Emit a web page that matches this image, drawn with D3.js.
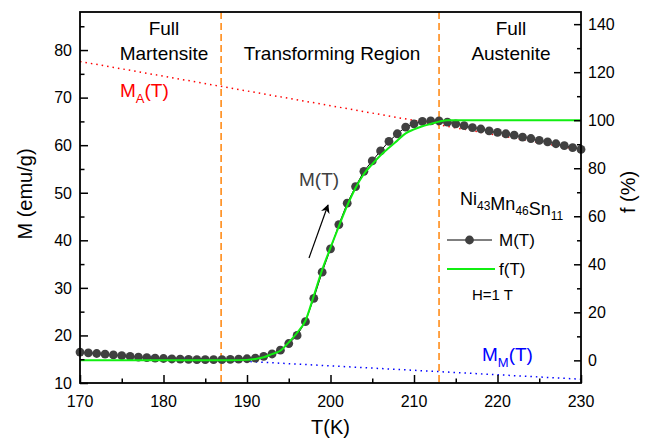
<!DOCTYPE html>
<html>
<head>
<meta charset="utf-8">
<script src="https://cdn.jsdelivr.net/npm/d3@7"></script>
<style>
  body { margin: 0; background: #fff; }
  svg text { font-family: "Liberation Sans", Arial, sans-serif; }
</style>
</head>
<body>
<div id="chart"></div>
<script>
// measured M(T), 1 K steps
const temps = [170,171,172,173,174,175,176,177,178,179,180,181,182,183,184,185,186,187,188,189,190,
  191,192,193,194,195,196,197,198,199,200,201,202,203,204,205,206,207,208,209,210,
  211,212,213,214,215,216,217,218,219,220,221,222,223,224,225,226,227,228,229,230];
const magnet = [16.5,16.35,16.2,16.05,15.9,15.75,15.6,15.45,15.35,15.25,15.15,15.05,15.0,14.95,14.9,14.9,14.9,14.9,14.95,15.0,15.1,
  15.25,15.6,16.1,16.9,18.3,20.0,22.9,27.8,33.3,38.2,43.3,47.8,51.3,54.5,56.7,58.8,60.8,62.4,63.8,64.5,
  65.0,65.1,65.1,64.85,64.5,64.1,63.7,63.4,63.0,62.7,62.4,62.1,61.7,61.4,61.0,60.7,60.3,59.9,59.5,59.1];

// fraction f(T) in %
const fTemps = [170,188,190,191,192,193,194,195,196,197,198,199,200,201,202,203,204,205,206,207,208,209,210,211,212,213,214,230];
const fValues = [0,0,0.2,0.6,1.3,2.6,4.0,7.5,11.5,16.5,26.9,37.7,46.9,55.8,64.4,71.8,77.6,81.7,85.4,88.5,91.5,94.5,96.2,97.5,98.4,99.4,100,100];

// reference lines
const mALine = [[170, 77.6], [230, 59.0]];
const mMLine = [[170, 16.4], [230, 10.8]];
const boundaries = [186.9, 213.0];

const xTicks = [170,180,190,200,210,220,230];
const yTicks = [10,20,30,40,50,60,70,80];
const fTicks = [0,20,40,60,80,100,120,140];

const width = 651, height = 439;
const margin = {top: 12, right: 70, bottom: 56, left: 80};

const svg = d3.select("#chart").append("svg")
    .attr("width", width)
    .attr("height", height);

const x = d3.scaleLinear().domain([170, 230]).range([margin.left, width - margin.right]);
const y = d3.scaleLinear().domain([10, 88]).range([height - margin.bottom, margin.top]);
const yf = d3.scaleLinear().domain([-9.43, 145.06]).range([height - margin.bottom, margin.top]);

const x0 = x.range()[0], x1 = x.range()[1];
const yb = y.range()[0], yt = y.range()[1];

// dashed phase boundaries
svg.append("g")
  .selectAll("line")
  .data(boundaries)
  .join("line")
    .attr("x1", d => x(d)).attr("x2", d => x(d))
    .attr("y1", yt).attr("y2", yb)
    .attr("stroke", "#ff8c1a")
    .attr("stroke-width", 1.6)
    .attr("stroke-dasharray", "7,4");

const line = d3.line().x(d => x(d[0])).y(d => y(d[1]));

svg.append("path")
    .attr("d", line(mALine))
    .attr("fill", "none")
    .attr("stroke", "#ff0000")
    .attr("stroke-width", 1.5)
    .attr("stroke-dasharray", "1.5,4");

svg.append("path")
    .attr("d", line(mMLine))
    .attr("fill", "none")
    .attr("stroke", "#0000ff")
    .attr("stroke-width", 1.5)
    .attr("stroke-dasharray", "1.5,4");

const mData = temps.map((t, i) => [t, magnet[i]]);

svg.append("path")
    .attr("d", line(mData))
    .attr("fill", "none")
    .attr("stroke", "#000")
    .attr("stroke-width", 1);

svg.append("g")
  .selectAll("circle")
  .data(mData)
  .join("circle")
    .attr("cx", d => x(d[0]))
    .attr("cy", d => y(d[1]))
    .attr("r", 4.4)
    .attr("fill", "#404040");

const fLine = d3.line()
    .x((d, i) => x(fTemps[i]))
    .y(d => yf(d))
    .curve(d3.curveMonotoneX);

svg.append("path")
    .attr("d", fLine(fValues))
    .attr("fill", "none")
    .attr("stroke", "#11ee11")
    .attr("stroke-width", 2);

// frame
svg.append("rect")
    .attr("x", x0).attr("y", yt)
    .attr("width", x1 - x0).attr("height", yb - yt)
    .attr("fill", "none")
    .attr("stroke", "#000")
    .attr("stroke-width", 1.8);

// axes (ticks inward)
const xAxis = svg.append("g")
    .attr("transform", `translate(0,${yb})`)
    .call(d3.axisTop(x).tickValues(d3.range(170, 231, 5)).tickSize(8).tickFormat(""));
xAxis.selectAll(".tick line").attr("y2", (d) => d % 10 === 0 ? -8 : -4.5);
xAxis.select(".domain").remove();

svg.append("g")
    .selectAll("text")
    .data(xTicks)
    .join("text")
      .attr("x", d => x(d))
      .attr("y", yb + 24)
      .attr("text-anchor", "middle")
      .style("font-size", "16px")
      .text(d => d);

const yAxis = svg.append("g")
    .attr("transform", `translate(${x0},0)`)
    .call(d3.axisRight(y).tickValues(d3.range(10, 88, 5)).tickSize(8).tickFormat(""));
yAxis.selectAll(".tick line").attr("x2", (d) => d % 10 === 0 ? 8 : 4.5);
yAxis.select(".domain").remove();

svg.append("g")
    .selectAll("text")
    .data(yTicks)
    .join("text")
      .attr("x", x0 - 8)
      .attr("y", d => y(d))
      .attr("dy", "0.36em")
      .attr("text-anchor", "end")
      .style("font-size", "16px")
      .text(d => d);

const fAxis = svg.append("g")
    .attr("transform", `translate(${x1},0)`)
    .call(d3.axisLeft(yf).tickValues(d3.range(0, 141, 10)).tickSize(7).tickFormat(""));
fAxis.selectAll(".tick line").attr("x2", (d) => d % 20 === 0 ? -7 : -4);
fAxis.select(".domain").remove();

svg.append("g")
    .selectAll("text")
    .data(fTicks)
    .join("text")
      .attr("x", x1 + 7)
      .attr("y", d => yf(d))
      .attr("dy", "0.36em")
      .attr("text-anchor", "start")
      .style("font-size", "16px")
      .text(d => d);

svg.selectAll(".tick line").attr("stroke", "#000").attr("stroke-width", 1.5);

// axis titles
svg.append("text")
    .attr("x", (x0 + x1) / 2).attr("y", 434)
    .attr("text-anchor", "middle")
    .style("font-size", "20px")
    .text("T(K)");

svg.append("text")
    .attr("transform", "translate(32,194) rotate(-90)")
    .attr("text-anchor", "middle")
    .style("font-size", "20px")
    .text("M (emu/g)");

svg.append("text")
    .attr("transform", "translate(635,192) rotate(-90)")
    .attr("text-anchor", "middle")
    .style("font-size", "20px")
    .text("f (%)");

// region labels
const regionText = [
  {lines: ["Full", "Martensite"], cx: 164},
  {lines: ["", "Transforming Region"], cx: 332},
  {lines: ["Full", "Austenite"], cx: 511}
];
regionText.forEach(r => {
  r.lines.forEach((s, i) => {
    svg.append("text")
        .attr("x", r.cx).attr("y", 35 + i * 25)
        .attr("text-anchor", "middle")
        .style("font-size", "19px")
        .text(s);
  });
});

// M_A(T), M_M(T) labels
function subLabel(xp, yp, main, sub, tail, color) {
  const t = svg.append("text")
      .attr("x", xp).attr("y", yp)
      .attr("fill", color)
      .style("font-size", "19px");
  t.append("tspan").text(main);
  t.append("tspan").attr("dy", 6).style("font-size", "13px").text(sub);
  t.append("tspan").attr("dy", -6).text(tail);
}
subLabel(120, 97, "M", "A", "(T)", "#ff0000");
subLabel(482, 361, "M", "M", "(T)", "#0000ff");

// M(T) annotation and arrow
svg.append("text")
    .attr("x", 299).attr("y", 186)
    .attr("fill", "#404040")
    .style("font-size", "19px")
    .text("M(T)");

svg.append("defs").append("marker")
    .attr("id", "arrow")
    .attr("viewBox", "0 0 10 10")
    .attr("refX", 9).attr("refY", 5)
    .attr("markerWidth", 9).attr("markerHeight", 9)
    .attr("markerUnits", "userSpaceOnUse")
    .attr("orient", "auto")
  .append("path")
    .attr("d", "M0,0L10,5L0,10L3,5Z")
    .attr("fill", "#000");

svg.append("line")
    .attr("x1", 309).attr("y1", 258)
    .attr("x2", 328).attr("y2", 205)
    .attr("stroke", "#000")
    .attr("stroke-width", 1.2)
    .attr("marker-end", "url(#arrow)");

// legend
const comp = svg.append("text")
    .attr("x", 460).attr("y", 205)
    .style("font-size", "18px");
[["Ni", "43"], ["Mn", "46"], ["Sn", "11"]].forEach(p => {
  comp.append("tspan").text(p[0]);
  comp.append("tspan").attr("dy", 5).style("font-size", "12px").text(p[1]);
  comp.append("tspan").attr("dy", -5).text("");
});

svg.append("line")
    .attr("x1", 447).attr("x2", 492).attr("y1", 240).attr("y2", 240)
    .attr("stroke", "#000").attr("stroke-width", 1);
svg.append("circle")
    .attr("cx", 469.5).attr("cy", 240).attr("r", 4.4).attr("fill", "#404040");
svg.append("text")
    .attr("x", 499).attr("y", 246)
    .style("font-size", "17px")
    .text("M(T)");

svg.append("line")
    .attr("x1", 447).attr("x2", 495).attr("y1", 269).attr("y2", 269)
    .attr("stroke", "#11ee11").attr("stroke-width", 2);
svg.append("text")
    .attr("x", 499).attr("y", 275)
    .style("font-size", "17px")
    .text("f(T)");

svg.append("text")
    .attr("x", 472).attr("y", 300)
    .style("font-size", "15px")
    .text("H=1 T");
</script>
</body>
</html>
